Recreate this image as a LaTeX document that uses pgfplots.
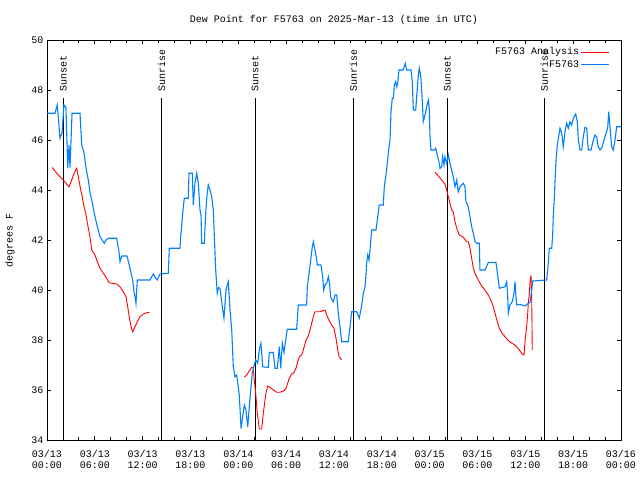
\documentclass[border=0pt]{standalone}
\usepackage{pgfplots}
\pgfplotsset{compat=1.18}
\usepackage{fontspec}
\setmainfont{Liberation Mono}
\setmonofont{Liberation Mono}
\definecolor{gblue}{RGB}{0,128,255}
\definecolor{gred}{RGB}{255,0,0}
\begin{document}
\begin{tikzpicture}
\useasboundingbox (-47pt,-40pt) rectangle (593pt,440pt);
\begin{axis}[
  at={(0pt,0pt)}, anchor=south west,
  scale only axis, width=574pt, height=400pt,
  xmin=0, xmax=72, ymin=34, ymax=50,
  xtick={0,6,...,72},
  minor x tick num=2,
  xticklabels={{03/13\\00:00},{03/13\\06:00},{03/13\\12:00},{03/13\\18:00},{03/14\\00:00},{03/14\\06:00},{03/14\\12:00},{03/14\\18:00},{03/15\\00:00},{03/15\\06:00},{03/15\\12:00},{03/15\\18:00},{03/16\\00:00}},
  xticklabel style={align=center, font=\fontsize{10}{11}\selectfont, yshift=-7pt},
  ytick={34,36,...,50},
  yticklabel style={font=\fontsize{10}{11}\selectfont},
  /pgf/number format/assume math mode=true,
  tick align=inside,
  major tick length=4pt, minor tick length=3pt,
  tick style={black, line width=0.8pt},
  axis line style={black, line width=0.8pt},
  title={Dew Point for F5763 on 2025-Mar-13 (time in UTC)},
  title style={at={(axis description cs:0.5,1)}, anchor=base, yshift=11.5pt, font=\fontsize{10}{11}\selectfont},
  ylabel={degrees F},
  ylabel style={at={(axis description cs:-0.0645,0.5)}, anchor=center, font=\fontsize{10}{11}\selectfont},
  unbounded coords=jump,
  legend plot pos=right,
  legend cell align=right,
  legend style={draw=none, fill=none, at={(axis description cs:1,1)}, anchor=north east, xshift=-8pt, yshift=-4pt,
    font=\fontsize{10}{11}\selectfont, row sep=1pt,
    nodes={inner sep=1.5pt}},
  legend image code/.code={\draw[#1] (0pt,0pt) -- (28pt,0pt);},
]
% sunrise / sunset lines
\addplot[black, line width=0.8pt, forget plot] coordinates {(2.05,34) (2.05,47.67)};
\addplot[black, line width=0.8pt, forget plot] coordinates {(14.38,34) (14.38,47.67)};
\addplot[black, line width=0.8pt, forget plot] coordinates {(26.09,34) (26.09,47.67)};
\addplot[black, line width=0.8pt, forget plot] coordinates {(38.43,34) (38.43,47.67)};
\addplot[black, line width=0.8pt, forget plot] coordinates {(50.2,34) (50.2,47.67)};
\addplot[black, line width=0.8pt, forget plot] coordinates {(62.39,34) (62.39,47.67)};
\node[rotate=90, anchor=west, inner sep=0pt, font=\fontsize{10}{11}\selectfont] at (axis cs:2.05,47.93) {Sunset};
\node[rotate=90, anchor=west, inner sep=0pt, font=\fontsize{10}{11}\selectfont] at (axis cs:14.38,47.93) {Sunrise};
\node[rotate=90, anchor=west, inner sep=0pt, font=\fontsize{10}{11}\selectfont] at (axis cs:26.09,47.93) {Sunset};
\node[rotate=90, anchor=west, inner sep=0pt, font=\fontsize{10}{11}\selectfont] at (axis cs:38.43,47.93) {Sunrise};
\node[rotate=90, anchor=west, inner sep=0pt, font=\fontsize{10}{11}\selectfont] at (axis cs:50.2,47.93) {Sunset};
\node[rotate=90, anchor=west, inner sep=0pt, font=\fontsize{10}{11}\selectfont] at (axis cs:62.39,47.93) {Sunrise};
% analysis
\addplot[gred, line width=0.9pt] coordinates {
(0.66,44.9) (1.22,44.67) (1.63,44.53) (2.04,44.4) (2.38,44.27) (2.76,44.13) (3.10,44.4) (3.39,44.67) (3.73,44.87) (3.93,44.53)
(4.23,44.0) (4.43,43.73) (4.55,43.47) (4.85,43.07) (5.11,42.6) (5.39,42.13) (5.61,41.6) (6.02,41.4) (6.31,41.13) (6.65,40.87)
(7.06,40.67) (7.49,40.47) (7.78,40.29) (8.74,40.24) (9.16,40.13) (9.57,39.93) (9.91,39.73) (10.12,39.33) (10.32,38.93) (10.54,38.53)
(10.75,38.33) (11.04,38.53) (11.33,38.73) (11.67,38.93) (12.08,39.04) (12.51,39.09) (12.83,39.1)
(18,nan)
(24.75,36.51) (25.05,36.6) (25.38,36.77) (25.68,36.9) (25.88,36.9) (26.00,36.4) (26.18,35.87) (26.38,35.07) (26.63,34.44) (26.93,34.44)
(27.13,35.07) (27.35,35.6) (27.47,35.87) (27.68,36.16) (27.97,36.11) (28.39,36.0) (28.81,35.91) (29.23,35.91) (29.73,35.97) (29.98,36.07)
(30.19,36.27) (30.39,36.47) (30.69,36.64) (30.98,36.69) (31.23,36.87) (31.45,37.13) (31.65,37.33) (31.95,37.4) (32.15,37.6) (32.49,38.0)
(32.78,38.16) (32.99,38.4) (33.20,38.67) (33.40,38.93) (33.62,39.13) (34.24,39.13) (34.87,39.2) (35.09,39.0) (35.37,38.8) (35.71,38.6)
(36.00,38.47) (36.25,38.07) (36.41,37.73) (36.63,37.33) (36.97,37.2)
(42,nan)
(48.67,44.71) (49.08,44.56) (49.51,44.4) (49.92,44.23) (50.14,44.0) (50.34,43.73) (50.55,43.47) (50.76,43.2) (50.96,43.13) (51.18,42.73)
(51.47,42.4) (51.72,42.2) (52.22,42.11) (52.65,41.93) (52.85,41.93) (53.06,41.67) (53.27,41.27) (53.47,40.87) (53.69,40.67) (54.10,40.4)
(54.52,40.16) (54.94,40.0) (55.36,39.8) (55.66,39.6) (55.91,39.4) (56.20,39.07) (56.49,38.73) (56.74,38.47) (57.04,38.29) (57.45,38.13)
(57.87,37.97) (58.49,37.84) (58.92,37.73) (59.33,37.57) (59.62,37.43) (59.83,37.4) (60.00,38.07) (60.17,38.53) (60.30,39.07) (60.37,39.47)
(60.50,39.87) (60.59,40.33) (60.71,40.6) (60.80,39.6) (60.87,37.6)
};
\addlegendentry{F5763 Analysis}
% observations
\addplot[gblue, line width=1.1pt] coordinates {
(0,47.07) (1.00,47.07) (1.29,47.4) (1.63,46.07) (1.88,46.28) (2.13,47.4) (2.38,47.3) (2.60,44.9) (2.76,45.8) (2.89,44.9)
(3.14,47.07) (4.14,47.07) (4.35,45.8) (4.64,45.5) (4.89,44.9) (5.18,44.4) (5.39,43.9) (5.61,43.6) (6.02,42.93) (6.27,42.6)
(6.65,42.13) (7.19,41.87) (7.40,42.0) (7.69,42.07) (8.74,42.07) (9.03,41.53) (9.16,41.13) (9.37,41.36) (10.04,41.36) (10.41,40.87)
(10.75,40.4) (10.91,39.93) (11.04,39.73) (11.16,39.47) (11.33,40.4) (12.92,40.4) (13.33,40.64) (13.55,40.5) (13.84,40.4) (14.17,40.64)
(15.22,40.67) (15.34,41.67) (16.68,41.67) (16.77,42.13) (17.02,43.07) (17.22,43.67) (17.72,43.67) (17.81,44.67) (18.23,44.67) (18.35,43.4)
(18.56,44.27) (18.78,44.67) (18.98,44.27) (19.19,43.2) (19.32,43.0) (19.41,41.87) (19.73,41.87) (19.91,43.07) (20.07,43.8) (20.23,44.2)
(20.45,44.0) (20.66,43.73) (20.86,43.2) (21.16,40.8) (21.36,39.87) (21.51,40.1) (21.70,40.07) (21.99,39.33) (22.20,38.87) (22.45,40.0)
(22.74,40.33) (22.96,39.2) (23.17,38.4) (23.37,36.93) (23.58,36.53) (23.80,36.6) (24.12,35.8) (24.34,34.47) (24.55,34.93) (24.75,35.4)
(24.96,35.2) (25.18,34.53) (25.38,35.33) (25.55,36.0) (25.75,36.67) (26.00,37.0) (26.18,37.2) (26.43,37.07) (26.63,37.6) (26.84,37.87)
(27.06,36.93) (27.76,36.9) (27.89,37.5) (28.39,37.5) (28.60,36.87) (28.89,36.87) (29.14,37.73) (29.31,36.87) (29.52,37.87) (29.73,37.5)
(29.94,38.0) (30.14,38.43) (31.32,38.43) (31.52,39.4) (32.57,39.4) (32.65,40.13) (32.87,40.67) (33.08,41.2) (33.28,41.73) (33.41,41.93)
(33.53,41.73) (33.74,41.4) (33.91,41.0) (34.37,41.0) (34.58,40.53) (34.71,40.0) (34.87,40.2) (35.09,40.27) (35.29,40.53) (35.41,40.33)
(35.59,39.73) (35.75,39.6) (35.91,39.53) (36.13,39.8) (36.34,39.8) (36.54,39.07) (36.75,38.53) (36.97,37.93) (37.79,37.93) (38.01,38.53)
(38.22,39.13) (38.85,39.13) (39.17,38.87) (39.48,39.4) (39.68,39.87) (39.89,40.13) (39.98,40.47) (40.10,41.07) (40.23,41.4) (40.39,41.2)
(40.52,41.6) (40.64,42.07) (40.73,42.4) (41.27,42.4) (41.43,42.8) (41.68,43.4) (42.18,43.4) (42.31,44.13) (42.52,44.6) (42.69,45.07)
(42.90,45.73) (43.03,46.0) (43.15,47.13) (43.31,47.67) (43.44,47.67) (43.57,48.2) (43.74,48.33) (43.87,48.13) (43.99,48.27) (44.15,48.8)
(44.69,48.8) (44.94,49.07) (45.12,48.8) (45.66,48.8) (45.82,48.33) (45.95,47.2) (46.25,47.2) (46.37,47.73) (46.58,48.6) (46.70,48.87)
(46.91,48.47) (47.08,47.53) (47.20,46.73) (47.42,47.0) (47.63,47.33) (47.83,47.6) (47.95,47.27) (48.04,46.13) (48.17,45.6) (48.58,45.6)
(48.76,45.67) (49.01,45.33) (49.17,45.13) (49.30,44.87) (49.51,44.93) (49.63,45.33) (49.80,45.0) (49.92,45.33) (50.14,45.07) (50.34,45.4)
(50.55,45.07) (50.76,44.8) (50.96,44.53) (51.18,44.13) (51.39,44.4) (51.59,43.93) (51.81,44.13) (52.22,44.27) (52.43,44.13) (52.55,43.53)
(52.85,43.33) (53.06,42.93) (53.27,42.53) (53.47,42.27) (53.69,41.93) (53.90,41.87) (54.23,41.87) (54.31,40.8) (54.94,40.8) (55.36,41.1)
(56.32,41.1) (56.53,40.6) (56.74,40.07) (57.45,40.13) (57.66,40.33) (57.79,39.73) (57.86,39.07) (58.08,39.4) (58.36,39.53) (58.58,39.87)
(58.71,40.33) (58.83,39.73) (58.92,39.4) (59.33,39.42) (59.96,39.36) (60.37,39.47) (60.59,39.5) (60.80,40.0) (60.93,40.36) (62.68,40.4)
(62.88,41.07) (63.01,41.67) (63.31,41.67) (63.43,42.2) (63.51,43.0) (63.64,43.67) (63.72,44.33) (63.85,45.2) (64.01,45.8) (64.35,46.47)
(64.56,46.27) (64.76,45.73) (64.98,46.33) (65.19,46.67) (65.39,46.47) (65.60,46.73) (65.81,46.6) (66.02,46.87) (66.32,47.04) (66.52,46.73)
(66.65,46.0) (66.86,45.6) (67.07,45.6) (67.27,46.13) (67.49,46.51) (67.70,46.47) (67.90,45.6) (68.24,45.6) (68.53,46.0) (68.74,46.2)
(68.95,46.13) (69.15,45.73) (69.37,45.6) (69.65,45.73) (69.87,46.0) (70.12,46.27) (70.33,46.47) (70.46,47.13) (70.62,46.53) (70.83,45.73)
(71.03,45.6) (71.25,46.0) (71.46,46.53) (72.00,46.53)
};
\addlegendentry{F5763}
\end{axis}
\end{tikzpicture}
\end{document}
